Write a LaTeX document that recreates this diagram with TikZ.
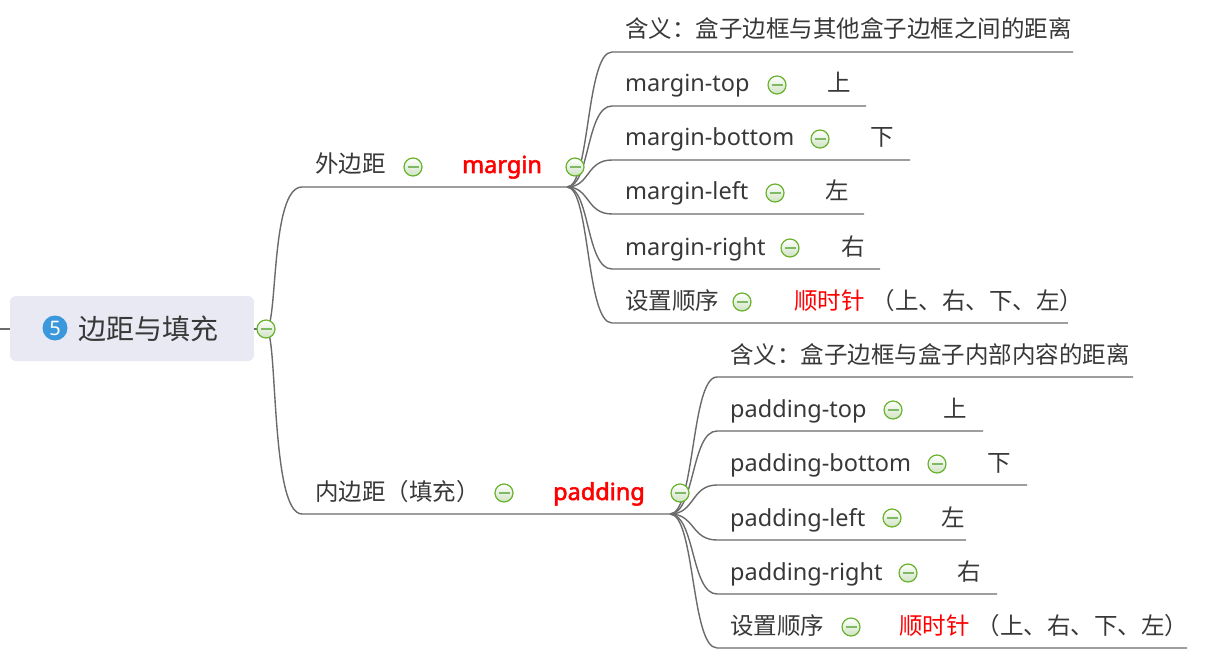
\documentclass[tikz,border=0pt]{standalone}
\usepackage{fontspec}
\setmainfont{Noto Sans}
\newfontfamily\cjk{Noto Sans CJK SC}
\newfontfamily\latbold[FakeBold=2.2]{Noto Sans}
\definecolor{txtc}{HTML}{383838}
\definecolor{linec}{HTML}{6A6A6A}
\definecolor{icgreen}{HTML}{68B22C}
\definecolor{icfill}{HTML}{CFE3C3}
\definecolor{icminus}{HTML}{80B964}
\definecolor{rootfill}{HTML}{E8E9F2}
\definecolor{badgeblue}{HTML}{3B98DD}
\definecolor{hotred}{HTML}{FF0000}
\tikzset{
  ln/.style={draw=linec, line width=1.4pt},
  txt/.style={anchor=base west, inner sep=0pt, text=txtc, font=\fontsize{23.5}{28}\selectfont},
  cjktxt/.style={anchor=base west, inner sep=0pt, text=txtc, font=\cjk\fontsize{23.5}{28}\selectfont},
  boldred/.style={anchor=base west, inner sep=0pt, text=hotred, font=\latbold\fontsize{23.5}{28}\selectfont},
  icon/.style={circle, minimum size=18pt, inner sep=0pt, draw=icgreen, line width=1.2pt,
    top color=white, bottom color=icfill,
    path picture={\draw[icminus, line width=1.6pt]
      ([xshift=-5.5pt]path picture bounding box.center) -- ([xshift=5.5pt]path picture bounding box.center);}},
  rootbox/.style={rectangle, rounded corners=6pt, fill=rootfill, minimum width=244pt, minimum height=65pt, inner sep=0pt},
  badge/.style={circle, fill=badgeblue, minimum size=25pt, inner sep=0pt, text=white, font=\fontsize{20}{20}\selectfont},
  roottxt/.style={anchor=base west, inner sep=0pt, text=txtc, font=\cjk\fontsize{28}{34}\selectfont},
}
\begin{document}
\begin{tikzpicture}[x=1pt,y=-1pt]
\useasboundingbox (0,0) rectangle (1206,660);

% ---------- root ----------
\coordinate (parentstub) at (0,329);
\node[rootbox] (root) at (132,328.5) {};
\draw[ln] (parentstub) -- (root.west |- parentstub);
\node[badge] (badge) at (55,328) {5};
\node[roottxt] (rootlbl) at (78,339) {边距与填充};

% ---------- level 1 geometry ----------
\coordinate (m0s) at (302,187); \coordinate (m0e) at (567,187);
\coordinate (p0s) at (302,514); \coordinate (p0e) at (670,514);
\coordinate (ricon) at (266,329);
\draw[ln] (root.east |- ricon) -- (ricon);
\draw[ln] (ricon) .. controls (278,329) and (270,187) .. (m0s) -- (m0e);
\draw[ln] (ricon) .. controls (278,329) and (270,514) .. (p0s) -- (p0e);

% ---------- margin children lines ----------
\foreach \n/\yy/\ee in {1/52/1073, 2/106/866, 3/160/910, 4/214/864, 5/269/880, 6/323/1068}{
  \coordinate (m\n s) at (612,\yy);
  \coordinate (m\n e) at (\ee,\yy);
  \draw[ln] (m0e) .. controls (590,187) and (586,\yy) .. (m\n s) -- (m\n e);
}
% ---------- padding children lines ----------
\foreach \n/\yy/\ee in {1/377/1133, 2/431/983, 3/485/1027, 4/540/966, 5/594/997, 6/648/1187}{
  \coordinate (p\n s) at (717,\yy);
  \coordinate (p\n e) at (\ee,\yy);
  \draw[ln] (p0e) .. controls (695,514) and (691,\yy) .. (p\n s) -- (p\n e);
}

% ---------- icons ----------
\node[icon] (rooticon) at (ricon) {};
\node[icon] (waiicon) at (413,167) {};
\node[icon] (marginicon) at (575,167) {};
\node[icon] (neiicon) at (504,493) {};
\node[icon] (paddingicon) at (680,493) {};

% ---------- level 1 texts ----------
\node[cjktxt] (waibianju) at (315,173) {外边距};
\node[boldred] (margin) at (462,173) {margin};
\node[cjktxt] (neibianju) at (315,500) {内边距（填充）};
\node[boldred] (padding) at (553,500) {padding};

% ---------- margin children ----------
\node[cjktxt] (mmean) at (625,38) {含义：盒子边框与其他盒子边框之间的距离};
\node[txt] (mtop) at (625,92) {margin-top};
\node[icon] (mtopicon) at (777,85) {};
\node[cjktxt] (mtopv) at (827,92) {上};
\node[txt] (mbot) at (625,146) {margin-bottom};
\node[icon] (mboticon) at (820,139) {};
\node[cjktxt] (mbotv) at (870,146) {下};
\node[txt] (mleft) at (625,200) {margin-left};
\node[icon] (mlefticon) at (775,193) {};
\node[cjktxt] (mleftv) at (825,200) {左};
\node[txt] (mright) at (625,255) {margin-right};
\node[icon] (mrighticon) at (790,248) {};
\node[cjktxt] (mrightv) at (841,255) {右};
\node[cjktxt] (morder) at (625,309) {设置顺序};
\node[icon] (mordericon) at (742,302) {};
\node[cjktxt] (morderv) at (794,309) {{\color{hotred}顺时针}\hspace{7pt}（上、右、下、左）};

% ---------- padding children ----------
\node[cjktxt] (pmean) at (730,363) {含义：盒子边框与盒子内部内容的距离};
\node[txt] (ptop) at (730,417) {padding-top};
\node[icon] (ptopicon) at (893,410) {};
\node[cjktxt] (ptopv) at (943,417) {上};
\node[txt] (pbot) at (730,471) {padding-bottom};
\node[icon] (pboticon) at (937,464) {};
\node[cjktxt] (pbotv) at (987,471) {下};
\node[txt] (pleft) at (730,526) {padding-left};
\node[icon] (plefticon) at (892,518) {};
\node[cjktxt] (pleftv) at (941,526) {左};
\node[txt] (pright) at (730,580) {padding-right};
\node[icon] (prighticon) at (908,573) {};
\node[cjktxt] (prightv) at (957,580) {右};
\node[cjktxt] (porder) at (730,634) {设置顺序};
\node[icon] (pordericon) at (851,627) {};
\node[cjktxt] (porderv) at (899,634) {{\color{hotred}顺时针}\hspace{7pt}（上、右、下、左）};
\end{tikzpicture}
\end{document}
